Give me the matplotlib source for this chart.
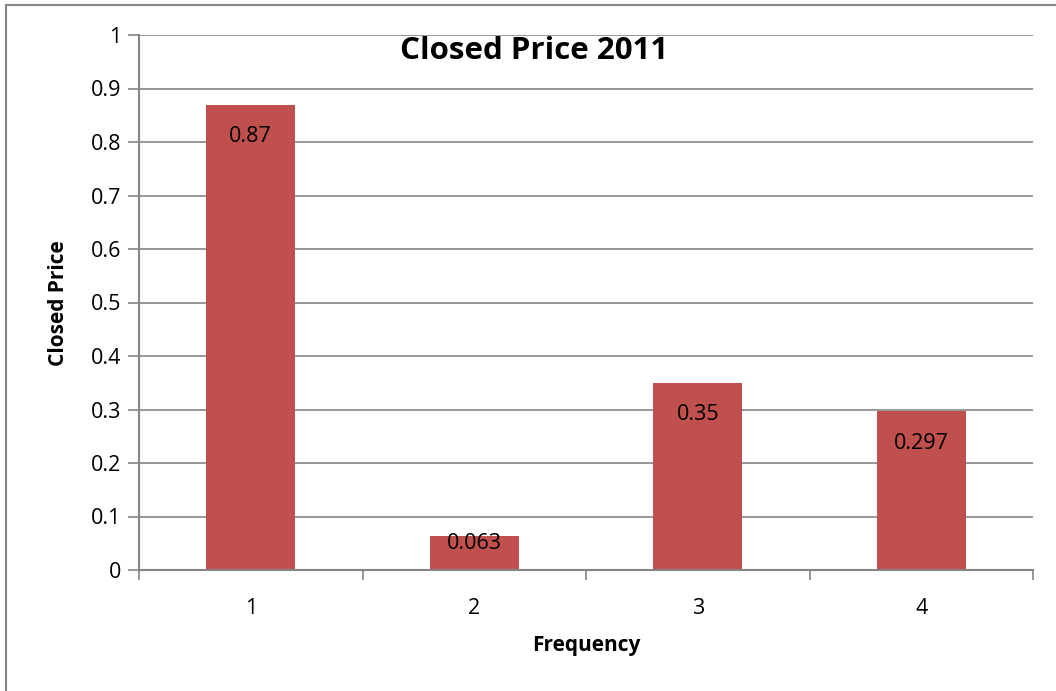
import matplotlib.pyplot as plt
from matplotlib.lines import Line2D

# Data
categories = [1, 2, 3, 4]
values = [0.87, 0.063, 0.35, 0.297]
value_labels = ["0.87", "0.063", "0.35", "0.297"]
y_ticks = [0, 0.1, 0.2, 0.3, 0.4, 0.5, 0.6, 0.7, 0.8, 0.9, 1]
y_tick_labels = ["0", "0.1", "0.2", "0.3", "0.4", "0.5", "0.6", "0.7", "0.8", "0.9", "1"]

plt.rcParams['font.family'] = ['Open Sans', 'DejaVu Sans']

W, H = 1056, 691
fig = plt.figure(figsize=(W / 100, H / 100), dpi=100)
ax = fig.add_axes([139 / W, 1 - 570 / H, (1033 - 139) / W, (570 - 35) / H])

grey = '#868686'
bar_color = '#C0504D'

ax.bar(categories, values, width=0.4, color=bar_color, zorder=3)

# gridlines
for t in y_ticks[1:]:
    ax.axhline(t, color=grey, lw=1.2, zorder=1)

ax.set_xlim(0.5, 4.5)
ax.set_ylim(0, 1)
ax.set_yticks(y_ticks)
ax.set_yticklabels(y_tick_labels, fontsize=15.5)
ax.set_xticks(categories)
ax.set_xticklabels([str(c) for c in categories], fontsize=15.5)
ax.tick_params(axis='x', length=0, pad=20)
ax.tick_params(axis='y', length=8, width=1.2, color=grey, pad=5)

# category boundary ticks on x axis
ax.set_xticks([0.5, 1.5, 2.5, 3.5, 4.5], minor=True)
ax.tick_params(axis='x', which='minor', length=7, width=1.2, color=grey)

for side in ['top', 'right']:
    ax.spines[side].set_visible(False)
for side in ['left', 'bottom']:
    ax.spines[side].set_color(grey)
    ax.spines[side].set_linewidth(1.5)
    ax.spines[side].set_zorder(4)

# value labels, inside end
for c, v, lab in zip(categories, values, value_labels):
    ax.text(c, max(v - 0.06, 0.05), lab, ha='center', va='center', fontsize=15.5, zorder=5)

fig.text(586 / W, 1 - 645 / H, 'Frequency', ha='center', va='center',
         fontsize=15, fontweight='bold')
fig.text(58 / W, 1 - 303 / H, 'Closed Price', rotation=90, ha='center', va='center',
         fontsize=15, fontweight='bold')
fig.text(534 / W, 1 - 51 / H, 'Closed Price 2011', ha='center', va='center',
         fontsize=22.5, fontweight='bold')

# chart border (left and top visible)
fig.add_artist(Line2D([6 / W, 6 / W], [0, 1 - 5 / H], color=grey, lw=1.5))
fig.add_artist(Line2D([6 / W, 1], [1 - 5 / H, 1 - 5 / H], color=grey, lw=1.5))

fig.savefig('out.png', dpi=100)
